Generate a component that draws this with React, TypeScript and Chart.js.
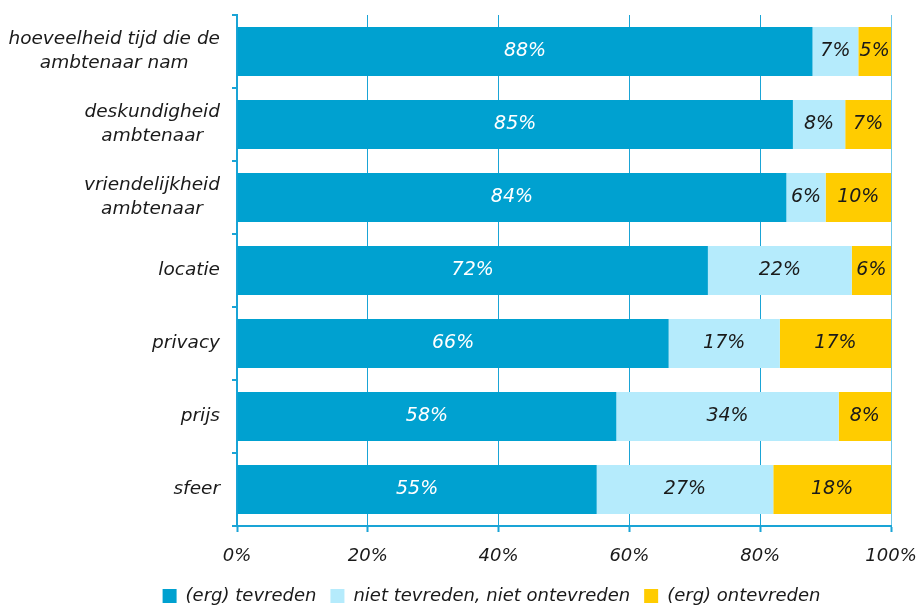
import React, { useEffect, useRef } from 'react';
import { Chart, registerables } from 'chart.js';

Chart.register(...registerables);

const categories: string[][] = [
  ['hoeveelheid tijd die de', 'ambtenaar nam'],
  ['deskundigheid', 'ambtenaar'],
  ['vriendelijkheid', 'ambtenaar'],
  ['locatie'],
  ['privacy'],
  ['prijs'],
  ['sfeer'],
];
const seriesNames = ['(erg) tevreden', 'niet tevreden, niet ontevreden', '(erg) ontevreden'];
const tevreden = [88, 85, 84, 72, 66, 58, 55];
const neutraal = [7, 8, 6, 22, 17, 34, 27];
const ontevreden = [5, 7, 10, 6, 17, 8, 18];
const xTickValues = [0, 20, 40, 60, 80, 100];

const COLORS = ['#00A1D0', '#B5EBFC', '#FFCC00'];
const AXIS_BLUE = '#1AA4D6';
const TEXT = '#1a1a1a';
const FONT = '"DejaVu Sans", Verdana, sans-serif';

const categoryLabelPlugin = {
  id: 'categoryLabels',
  afterDraw(chart: any) {
    const ctx = chart.ctx;
    const yScale = chart.scales.y;
    ctx.save();
    ctx.font = `italic 18.5px ${FONT}`;
    ctx.fillStyle = TEXT;
    ctx.textAlign = 'center';
    ctx.textBaseline = 'middle';
    categories.forEach((lines, i) => {
      const yc = yScale.getPixelForValue(i);
      const w = Math.max(...lines.map((l) => ctx.measureText(l).width));
      const cx = yScale.right - 17 - w / 2;
      const lh = 24;
      lines.forEach((l, j) => {
        ctx.fillText(l, cx, yc + (j - (lines.length - 1) / 2) * lh);
      });
    });
    ctx.restore();
  },
};

const valueLabelPlugin = {
  id: 'valueLabels',
  afterDatasetsDraw(chart: any) {
    const ctx = chart.ctx;
    ctx.save();
    ctx.font = `italic 19px ${FONT}`;
    ctx.textAlign = 'center';
    ctx.textBaseline = 'middle';
    chart.data.datasets.forEach((ds: any, di: number) => {
      const meta = chart.getDatasetMeta(di);
      meta.data.forEach((el: any, i: number) => {
        const v = ds.data[i];
        const { x, base, y } = el.getProps(['x', 'base', 'y'], true);
        ctx.fillStyle = di === 0 ? '#ffffff' : TEXT;
        ctx.fillText(`${v}%`, (x + base) / 2, y);
      });
    });
    ctx.restore();
  },
};

export default function App() {
  const ref = useRef<HTMLCanvasElement | null>(null);

  useEffect(() => {
    if (!ref.current) return;
    Chart.defaults.font.family = FONT;
    const chart = new Chart(ref.current, {
      type: 'bar',
      data: {
        labels: categories.map((c) => c.join(' ')),
        datasets: [tevreden, neutraal, ontevreden].map((d, i) => ({
          label: seriesNames[i],
          data: d,
          backgroundColor: COLORS[i],
          borderWidth: 0,
          barPercentage: 0.67,
          categoryPercentage: 1,
        })),
      },
      options: {
        indexAxis: 'y',
        responsive: false,
        animation: false,
        layout: { padding: { top: 15, right: 29, left: 92, bottom: 0 } },
        scales: {
          x: {
            stacked: true,
            min: 0,
            max: 100,
            afterBuildTicks(scale: any) {
              scale.ticks = xTickValues.map((v) => ({ value: v }));
            },
            afterFit(scale: any) {
              scale.height = 47;
              scale.paddingLeft = 0;
              scale.paddingRight = 0;
            },
            ticks: {
              callback: (v: any) => `${v}%`,
              color: TEXT,
              padding: 14,
              font: { size: 18, style: 'italic' },
              maxRotation: 0,
            },
            grid: {
              color: (c: any) => (c.tick && c.tick.value === 100 ? '#6FC6E6' : AXIS_BLUE),
              lineWidth: 1,
              tickLength: 6,
              tickWidth: 2,
              tickColor: AXIS_BLUE,
            },
            border: { display: true, color: AXIS_BLUE, width: 2 },
          },
          y: {
            stacked: true,
            afterFit(scale: any) {
              scale.width = 145;
            },
            ticks: { color: 'rgba(0,0,0,0)', font: { size: 10 } },
            grid: {
              offset: true,
              drawOnChartArea: false,
              tickLength: 5,
              lineWidth: 2,
              tickColor: AXIS_BLUE,
              color: AXIS_BLUE,
            },
            border: { display: true, color: AXIS_BLUE, width: 2 },
          },
        },
        plugins: {
          legend: {
            position: 'bottom',
            labels: {
              boxWidth: 14,
              boxHeight: 14,
              padding: 14,
              color: TEXT,
              font: { size: 18, style: 'italic' },
            },
          },
          tooltip: { enabled: false },
        },
      },
      plugins: [categoryLabelPlugin, valueLabelPlugin],
    } as any);
    return () => chart.destroy();
  }, []);

  return (
    <div style={{ position: 'fixed', left: 0, top: 0, width: 920, height: 615, background: '#fff' }}>
      <canvas ref={ref} width={920} height={615} style={{ display: 'block' }} />
    </div>
  );
}
